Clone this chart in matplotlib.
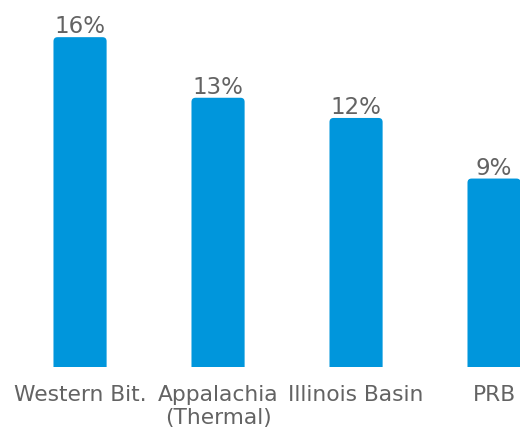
import numpy as np
import matplotlib
matplotlib.use('Agg')
import matplotlib.pyplot as plt
from matplotlib.patches import FancyBboxPatch

# coal basin shares (%)
basins = ['Western Bit.', 'Appalachia\n(Thermal)', 'Illinois Basin', 'PRB']
shares = [16, 13, 12, 9]
share_labels = ['16%', '13%', '12%', '9%']

bar_color = '#0096DC'
text_color = '#636363'

fig = plt.figure(figsize=(5.2, 4.32), dpi=100)
ax = fig.add_axes([0, 0.1505, 1, 0.8495])

x = np.arange(len(basins))
bars = ax.bar(x, shares, width=0.385, color=bar_color)

ax.set_xlim(-0.58, 3.188)
ax.set_ylim(-0.33, 17.84)

# swap plain bars for ones with slightly rounded top corners
# (bottom pushed below the axes so only the top rounding shows)
aspect = (137.9 / 20.2)
for b in bars:
    x0, y0 = b.get_x(), b.get_y()
    w, h = b.get_width(), b.get_height()
    rb = FancyBboxPatch((x0, y0 - 1), w, h + 1,
                        boxstyle='round,pad=0,rounding_size=0.03',
                        mutation_aspect=aspect,
                        facecolor=bar_color, edgecolor='none')
    ax.add_patch(rb)
    b.remove()

for xi, v, lab in zip(x, shares, share_labels):
    ax.annotate(lab, (xi, v), xytext=(0, 2.8), textcoords='offset points',
                ha='center', va='baseline', fontsize=16.5, color=text_color,
                family='DejaVu Sans')

ax.set_xticks(x)
ax.set_xticklabels(basins, fontsize=15.7, color=text_color, family='DejaVu Sans',
                   linespacing=1.2)
ax.tick_params(axis='x', length=0, pad=13)
ax.set_yticks([])
for s in ax.spines.values():
    s.set_visible(False)

fig.savefig('out.png', dpi=100)
